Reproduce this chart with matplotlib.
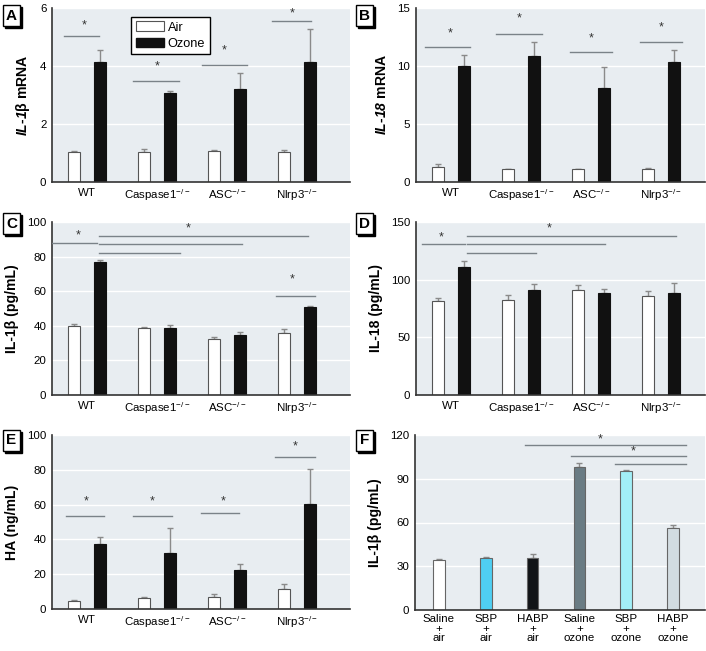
import numpy as np
import matplotlib
matplotlib.use("Agg")
import matplotlib.pyplot as plt
import matplotlib.font_manager as fm
from matplotlib.patches import Patch, Rectangle

try:
    fm.findfont('Liberation Sans Narrow', fallback_to_default=False)
    FONT = 'Liberation Sans Narrow'
    k = 1.0
except Exception:
    FONT = 'Liberation Sans'
    k = 0.92

plt.rcParams['font.family'] = [FONT, 'DejaVu Sans']
plt.rcParams['mathtext.fontset'] = 'custom'
plt.rcParams['mathtext.rm'] = FONT
plt.rcParams['mathtext.it'] = FONT + ':italic'
plt.rcParams['mathtext.bf'] = FONT + ':bold'
plt.rcParams['mathtext.bfit'] = FONT + ':bold:italic'

# data
groups = ['WT', 'Caspase1$^{-/-}$', 'ASC$^{-/-}$', 'Nlrp3$^{-/-}$']

a_air = [1.04, 1.05, 1.07, 1.04]
a_air_err = [0.02, 0.08, 0.03, 0.08]
a_ozone = [4.15, 3.08, 3.19, 4.15]
a_ozone_err = [0.41, 0.05, 0.56, 1.14]

b_air = [1.3, 1.1, 1.1, 1.15]
b_air_err = [0.23, 0.05, 0.04, 0.06]
b_ozone = [10.04, 10.82, 8.08, 10.33]
b_ozone_err = [0.92, 1.28, 1.82, 1.01]

c_air = [39.8, 38.7, 32.3, 35.6]
c_air_err = [1.2, 0.8, 1.4, 2.3]
c_ozone = [76.9, 39.0, 34.8, 51.0]
c_ozone_err = [1.0, 1.2, 1.9, 0.5]

d_air = [81.3, 82.2, 91.4, 86.0]
d_air_err = [2.4, 4.9, 3.8, 4.0]
d_ozone = [111.0, 90.9, 88.8, 88.3]
d_ozone_err = [5.0, 5.1, 3.5, 8.9]

e_air = [4.8, 6.1, 6.7, 11.3]
e_air_err = [0.3, 0.6, 1.7, 2.9]
e_ozone = [37.2, 32.0, 22.4, 60.3]
e_ozone_err = [4.4, 14.7, 3.3, 20.0]

f_labels = ['Saline\n+\nair', 'SBP\n+\nair', 'HABP\n+\nair',
            'Saline\n+\nozone', 'SBP\n+\nozone', 'HABP\n+\nozone']
f_vals = [34.3, 35.7, 35.4, 97.8, 95.3, 56.5]
f_err = [0.8, 0.5, 2.8, 2.8, 0.5, 1.5]
f_colors = ['#ffffff', '#4fcff3', '#111417', '#6a7c84', '#a2eff7', '#d2dce1']

# significance brackets: (x0, x1, y) and stars (x, y)
a_lines = [(-0.33, 0.17, 5.02), (0.66, 1.31, 3.5), (1.64, 2.29, 4.04), (2.64, 3.2, 5.54)]
a_stars = [(-0.04, 5.4), (1.0, 3.98), (1.96, 4.55), (2.93, 5.82)]
b_lines = [(-0.37, 0.27, 11.62), (0.64, 1.3, 12.78), (1.7, 2.3, 11.19), (2.7, 3.3, 12.03)]
b_stars = [(-0.01, 12.8), (0.97, 14.1), (2.01, 12.4), (3.0, 13.35)]
c_lines = [(-0.5, 0.14, 88.1), (0.17, 3.16, 91.7), (0.17, 2.21, 87.1), (0.17, 1.33, 82.3),
           (2.7, 3.26, 57.1)]
c_stars = [(-0.13, 92.3), (1.44, 96.2), (2.94, 67.0)]
d_lines = [(-0.41, 0.2, 130.7), (0.23, 3.21, 137.6), (0.23, 2.2, 130.7), (0.23, 1.21, 123.2)]
d_stars = [(-0.14, 137.0), (1.41, 144.0)]
e_lines = [(-0.3, 0.24, 53.4), (0.66, 1.21, 53.4), (1.63, 2.17, 55.0), (2.69, 3.26, 87.2)]
e_stars = [(-0.01, 61.7), (0.93, 62.0), (1.94, 61.7), (2.97, 93.3)]
f_lines = [(1.84, 5.28, 113.1), (2.82, 5.28, 105.6), (3.76, 5.28, 100.1)]
f_stars = [(3.44, 117.0), (4.15, 108.6)]

BG = '#e8edf1'
ERR = '#8a8a8a'
LINE = '#7a8288'
TICK = 9 * k
YLAB = 11 * k

fig = plt.figure(figsize=(7.06, 6.51), dpi=100)


def style(ax, ymax, step, xlim):
    ax.set_facecolor(BG)
    ax.set_ylim(0, ymax)
    ax.set_yticks(np.arange(0, ymax + 0.001, step))
    ax.set_xlim(*xlim)
    ax.yaxis.grid(True, color='white', lw=1)
    ax.set_axisbelow(True)
    for s in ['top', 'right']:
        ax.spines[s].set_visible(False)
    for s in ['left', 'bottom']:
        ax.spines[s].set_color('#333333')
        ax.spines[s].set_linewidth(1.2)
    ax.tick_params(length=0, labelsize=TICK, pad=4)


def pair_panel(rect, air, air_err, ozone, ozone_err, ymax, step, xlim, ylabel,
               lines, stars):
    ax = fig.add_axes(rect)
    x = np.arange(len(groups))
    w = 0.165
    off = 0.186
    ax.bar(x - off, air, w, color='white', edgecolor='#555555', lw=0.8, zorder=2)
    ax.bar(x + off, ozone, w, color='#111111', edgecolor='#111111', lw=0.8, zorder=2)
    ax.errorbar(x - off, air, yerr=[np.zeros(len(air)), air_err], fmt='none',
                ecolor=ERR, elinewidth=1, capsize=2.5, zorder=1)
    ax.errorbar(x + off, ozone, yerr=[np.zeros(len(ozone)), ozone_err], fmt='none',
                ecolor=ERR, elinewidth=1, capsize=2.5, zorder=1)
    style(ax, ymax, step, xlim)
    ax.set_xticks(x)
    ax.set_xticklabels(groups)
    ax.set_ylabel(ylabel, fontsize=YLAB, fontweight='bold', labelpad=6)
    for x0, x1, y in lines:
        ax.plot([x0, x1], [y, y], color=LINE, lw=1, zorder=3)
    for sx, sy in stars:
        ax.text(sx, sy, '*', ha='center', va='center', fontsize=9, color='#333333')
    return ax


def panel_letter(x, y, letter):
    # x, y: top-left corner of box in pixels from top-left of figure
    bw, bh = 17, 21
    fig.patches.append(Rectangle(((x + 2) / 706, 1 - (y + bh + 2) / 651), bw / 706, bh / 651,
                                 transform=fig.transFigure, fc='black', ec='black',
                                 lw=1, zorder=1))
    fig.patches.append(Rectangle((x / 706, 1 - (y + bh) / 651), bw / 706, bh / 651,
                                 transform=fig.transFigure, fc='white', ec='black',
                                 lw=1, zorder=2))
    fig.text((x + bw / 2) / 706, 1 - (y + bh / 2) / 651, letter, fontsize=11,
             fontweight='bold', ha='center', va='center', zorder=3)


left_l, w_l = 52 / 706, 298 / 706
left_r, w_r = 416 / 706, 289 / 706
h = 174 / 651
xl_l = (-0.5, 3.76)
xl_r = (-0.5, 3.63)

axA = pair_panel([left_l, 1 - 182 / 651, w_l, h], a_air, a_air_err, a_ozone, a_ozone_err,
                 6, 2, xl_l, r'$\mathbfit{IL}$-$\mathbfit{1}$β mRNA', a_lines, a_stars)
leg = axA.legend(handles=[Patch(fc='white', ec='#555555', lw=0.8, label='Air'),
                          Patch(fc='#111111', ec='#111111', label='Ozone')],
                 loc='upper left', bbox_to_anchor=(0.245, 0.985), fontsize=10 * k,
                 fancybox=False, framealpha=1, edgecolor='black',
                 handlelength=2.2, handleheight=0.8, handletextpad=0.3,
                 borderpad=0.35, labelspacing=0.3)
leg.get_frame().set_linewidth(1)

pair_panel([left_r, 1 - 182 / 651, w_r, h], b_air, b_air_err, b_ozone, b_ozone_err,
           15, 5, xl_r, r'$\mathbfit{IL}$-$\mathbfit{18}$ mRNA', b_lines, b_stars)
pair_panel([left_l, 1 - 395 / 651, w_l, 173 / 651], c_air, c_air_err, c_ozone, c_ozone_err,
           100, 20, xl_l, 'IL-1β (pg/mL)', c_lines, c_stars)
pair_panel([left_r, 1 - 395 / 651, w_r, 173 / 651], d_air, d_air_err, d_ozone, d_ozone_err,
           150, 50, xl_r, 'IL-18 (pg/mL)', d_lines, d_stars)
pair_panel([left_l, 1 - 609 / 651, w_l, h], e_air, e_air_err, e_ozone, e_ozone_err,
           100, 20, xl_l, 'HA (ng/mL)', e_lines, e_stars)

# panel F
axF = fig.add_axes([415 / 706, 1 - 610 / 651, 290 / 706, 175 / 651])
xf = np.arange(len(f_vals))
axF.bar(xf, f_vals, 0.25, color=f_colors, edgecolor='#666666', lw=0.8, zorder=2)
axF.errorbar(xf, f_vals, yerr=[np.zeros(len(f_vals)), f_err], fmt='none',
             ecolor=ERR, elinewidth=1, capsize=2.5, zorder=1)
style(axF, 120, 30, (-0.51, 5.68))
axF.set_xticks(xf)
axF.set_xticklabels(f_labels, linespacing=0.95)
axF.tick_params(axis='x', pad=3)
axF.set_ylabel('IL-1β (pg/mL)', fontsize=YLAB, fontweight='bold', labelpad=6)
for x0, x1, y in f_lines:
    axF.plot([x0, x1], [y, y], color=LINE, lw=1, zorder=3)
for sx, sy in f_stars:
    axF.text(sx, sy, '*', ha='center', va='center', fontsize=9, color='#333333')

panel_letter(3, 5, 'A')
panel_letter(356, 5, 'B')
panel_letter(3, 213, 'C')
panel_letter(356, 213, 'D')
panel_letter(3, 430, 'E')
panel_letter(356, 430, 'F')

fig.savefig('out.png', dpi=100, facecolor='white')
